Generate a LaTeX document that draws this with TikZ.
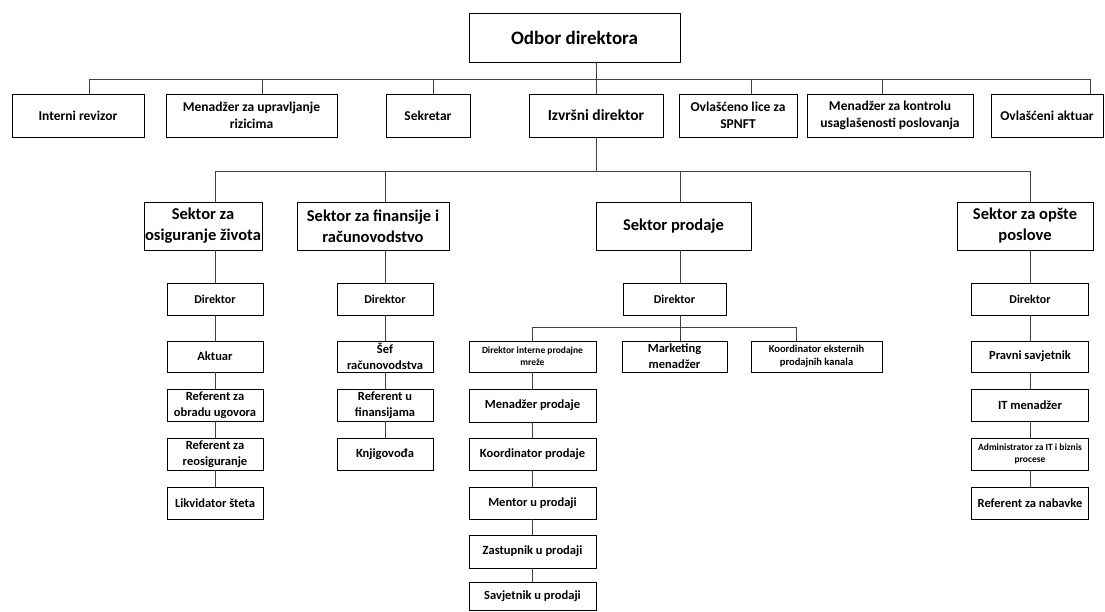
\documentclass[tikz,border=0pt]{standalone}
\usepackage{fontspec}
\setmainfont{Carlito}
\begin{document}
\begin{tikzpicture}[x=1pt,y=-1pt,
  fs/.style 2 args={font=\fontsize{#1}{#2}\selectfont\bfseries},
  box/.style={draw,fill=white,line width=0.9pt,inner sep=1pt,align=center},
  conn/.style={draw=black!75,line width=0.9pt},
  head/.style={fs={19}{22}},
  sec/.style={fs={16.5}{21}},
  chief/.style={fs={15.5}{18}},
  lvl/.style={fs={13.5}{17}},
  dir/.style={fs={12}{14}},
  item/.style={fs={12.5}{16}},
  tiny/.style={fs={9.5}{12}}]

\useasboundingbox (0,0) rectangle (1105,612);

%board and staff units
\node[box,head,minimum width=211,minimum height=49] (odbor) at (574.5,37.5) {Odbor direktora};
\node[box,lvl,minimum width=132,minimum height=43] (interni) at (78,115.5) {Interni revizor};
\node[box,lvl,minimum width=171,minimum height=43] (rizik) at (251.5,115.5) {Menadžer za upravljanje\\rizicima};
\node[box,lvl,minimum width=84,minimum height=43] (sekretar) at (428,115.5) {Sekretar};
\node[box,chief,minimum width=134,minimum height=43] (izvrsni) at (596,115.5) {Izvršni direktor};
\node[box,lvl,minimum width=118,minimum height=43] (spnft) at (738,115.5) {Ovlašćeno lice za\\SPNFT};
\node[box,lvl,minimum width=166,minimum height=43] (uskl) at (890,115.5) {Menadžer za kontrolu\\usaglašenosti poslovanja};
\node[box,lvl,minimum width=112,minimum height=43] (aktuar) at (1047,115.5) {Ovlašćeni aktuar};

%sectors
\node[box,sec,minimum width=118,minimum height=48] (zivot) at (203,226) {Sektor za\\osiguranje života};
\node[box,sec,minimum width=152,minimum height=48] (fin) at (373,226) {Sektor za finansije i\\računovodstvo};
\node[box,sec,minimum width=155,minimum height=48] (prod) at (673.5,226) {Sektor prodaje};
\node[box,sec,minimum width=136,minimum height=48] (opste) at (1025,226) {Sektor za opšte\\poslove};

%life insurance column
\node[box,dir,minimum width=96,minimum height=32] (zDir) at (215,299) {Direktor};
\node[box,item,minimum width=96,minimum height=31] (zAkt) at (215,356.5) {Aktuar};
\node[box,item,minimum width=96,minimum height=32] (zUgov) at (215,405) {Referent za\\obradu ugovora};
\node[box,item,minimum width=96,minimum height=32] (zReos) at (215,454) {Referent za\\reosiguranje};
\node[box,item,minimum width=96,minimum height=32] (zLikv) at (215,503) {Likvidator šteta};

%finance column
\node[box,dir,minimum width=96,minimum height=32] (fDir) at (385,299) {Direktor};
\node[box,item,minimum width=96,minimum height=31] (fSef) at (385,356.5) {Šef\\računovodstva};
\node[box,item,minimum width=96,minimum height=32] (fRef) at (385,405) {Referent u\\finansijama};
\node[box,item,minimum width=96,minimum height=32] (fKnj) at (385,454) {Knjigovođa};

%sales column
\node[box,dir,minimum width=103,minimum height=32] (pDir) at (674.5,299) {Direktor};
\node[box,tiny,minimum width=127,minimum height=31] (pInt) at (532.5,356.5) {Direktor interne prodajne\\mreže};
\node[box,item,minimum width=105,minimum height=31] (pMrk) at (674.5,356.5) {Marketing\\menadžer};
\node[box,fs={10.5}{13},minimum width=131,minimum height=31] (pEks) at (816.5,356.5) {Koordinator eksternih\\prodajnih kanala};
\node[box,item,minimum width=127,minimum height=33] (pMen) at (532.5,405.5) {Menadžer prodaje};
\node[box,item,minimum width=127,minimum height=32] (pKoo) at (532.5,454) {Koordinator prodaje};
\node[box,item,minimum width=127,minimum height=32] (pMnt) at (532.5,503) {Mentor u prodaji};
\node[box,item,minimum width=127,minimum height=33] (pZas) at (532.5,551.5) {Zastupnik u prodaji};
\node[box,item,minimum width=127,minimum height=28] (pSav) at (532.5,596.5) {Savjetnik u prodaji};

%general affairs column
\node[box,dir,minimum width=117,minimum height=32] (oDir) at (1030,299) {Direktor};
\node[box,item,minimum width=117,minimum height=31] (oPrav) at (1030,356.5) {Pravni savjetnik};
\node[box,item,minimum width=117,minimum height=32] (oIT) at (1030,405) {IT menadžer};
\node[box,tiny,minimum width=117,minimum height=32] (oAdm) at (1030,454) {Administrator za IT i biznis\\procese};
\node[box,item,minimum width=117,minimum height=32] (oNab) at (1030,503) {Referent za nabavke};

%top level lines
\coordinate (tbus) at (89,79);
\coordinate (tend) at (1090,79);
\draw[conn] (tbus) -- (tend);
\draw[conn] (odbor.south -| izvrsni) -- (izvrsni);
\foreach \n/\x in {interni/89,rizik/262,sekretar/433,spnft/751,uskl/882,aktuar/1090} {
  \coordinate (j) at (\x,79);
  \draw[conn] (j) -- (j |- \n.north);
}

%sector lines
\coordinate (sbus) at (0,171);
\draw[conn] (izvrsni) -- (izvrsni |- sbus);
\draw[conn] (sbus -| zDir) -- (sbus -| oDir);
\draw[conn] (sbus -| zDir) -- (zivot.north -| zDir);
\draw[conn] (sbus -| fDir) -- (fin.north -| fDir);
\draw[conn] (sbus -| oDir) -- (opste.north -| oDir);
\coordinate (pv) at (680,171);
\draw[conn] (pv) -- (pv |- prod.north);

%columns
\draw[conn] (zivot.south -| zDir) -- (zDir);
\draw[conn] (fin.south -| fDir) -- (fDir);
\draw[conn] (opste.south -| oDir) -- (oDir);
\draw[conn] (prod.south -| pv) -- (pDir.north -| pv);
\foreach \a/\b in {zDir/zAkt,zAkt/zUgov,zUgov/zReos,zReos/zLikv,
                   fDir/fSef,fSef/fRef,fRef/fKnj,
                   pInt/pMen,pMen/pKoo,pKoo/pMnt,pMnt/pZas,pZas/pSav,
                   oDir/oPrav,oPrav/oIT,oIT/oAdm,oAdm/oNab}
  \draw[conn] (\a) -- (\b);

%sales branches
\coordinate (pbus) at (0,327);
\coordinate (pe) at (796,327);
\draw[conn] (pDir.south -| pv) -- (pMrk.north -| pv);
\draw[conn] (pbus -| pInt) -- (pe);
\draw[conn] (pbus -| pInt) -- (pInt);
\draw[conn] (pe) -- (pe |- pEks.north);

\end{tikzpicture}
\end{document}
